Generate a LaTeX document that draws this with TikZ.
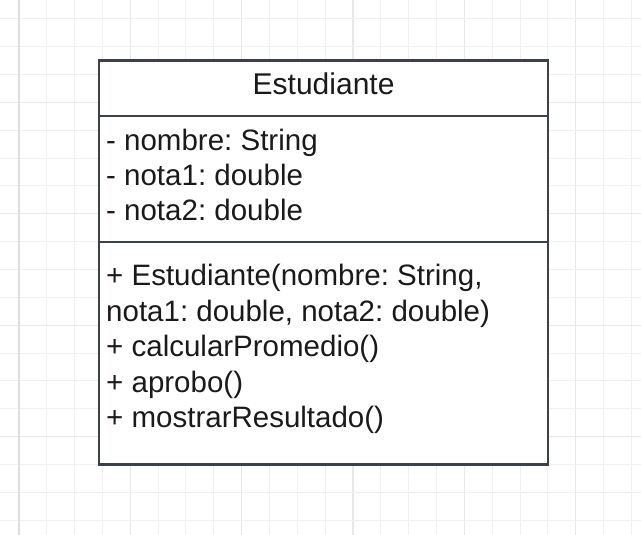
\documentclass[tikz,border=0pt]{standalone}
\usepackage{fontspec}
\setmainfont{Liberation Sans}
\frenchspacing
\definecolor{gridminor}{HTML}{F0F0F0}
\definecolor{gridmajor}{HTML}{E8E8E8}
\definecolor{gridedge}{HTML}{DEDEDE}
\definecolor{boxline}{HTML}{3C4149}
\definecolor{txt}{HTML}{1A1A1A}
\tikzset{
  classbox/.style={draw=boxline, line width=2.4pt, fill=white, inner sep=0pt},
  member/.style={anchor=base west, inner sep=0pt, text=txt, font=\fontsize{29.5}{35}\selectfont},
  titletext/.style={anchor=base, inner sep=0pt, text=txt, font=\fontsize{30}{36}\selectfont},
  divider/.style={draw=boxline, line width=2.4pt}
}
\begin{document}
\begin{tikzpicture}[x=1pt,y=-1pt]
\useasboundingbox (0,0) rectangle (641,535);
\fill[white] (0,0) rectangle (641,535);
% grid
\foreach \k in {0,...,22}{
  \pgfmathsetmacro{\gx}{18.8+27.85*\k}
  \pgfmathtruncatemacro{\m}{mod(\k,4)}
  \ifnum\m=0
    \draw[gridmajor, line width=1.2pt] (\gx,0) -- (\gx,535);
  \else
    \draw[gridminor, line width=1pt] (\gx,0) -- (\gx,535);
  \fi
}
\foreach \k in {0,...,18}{
  \pgfmathsetmacro{\gy}{18.85+27.85*\k}
  \pgfmathtruncatemacro{\m}{mod(\k,4)}
  \ifnum\m=3
    \draw[gridmajor, line width=1.2pt] (0,\gy) -- (641,\gy);
  \else
    \draw[gridminor, line width=1pt] (0,\gy) -- (641,\gy);
  \fi
}
\draw[gridedge, line width=2pt] (18.8,0) -- (18.8,535);
% class box
\node[classbox, minimum width=448.7pt, minimum height=403.8pt] (cls) at (323.35,262.4) {};
\coordinate (d1) at (99,116.3);
\coordinate (d2) at (99,241.8);
\draw[divider] (cls.west |- d1) -- (cls.east |- d1);
\draw[divider] (cls.west |- d2) -- (cls.east |- d2);
% title
\node[titletext] (title) at (323.6,94.7) {Estudiante};
% attributes
\node[member] (a1) at (106,150.7) {- nombre: String};
\node[member] (a2) at (106,185.8) {- nota1: double};
\node[member] (a3) at (106,220.9) {- nota2: double};
% methods
\node[member] (m1) at (106,285.3) {+ Estudiante(nombre: String,};
\node[member] (m2) at (106,321.0) {nota1: double, nota2: double)};
\node[member] (m3) at (106,356.7) {+ calcularPromedio()};
\node[member] (m4) at (106,392.2) {+ aprobo()};
\node[member] (m5) at (106,427.7) {+ mostrarResultado()};
\end{tikzpicture}
\end{document}
